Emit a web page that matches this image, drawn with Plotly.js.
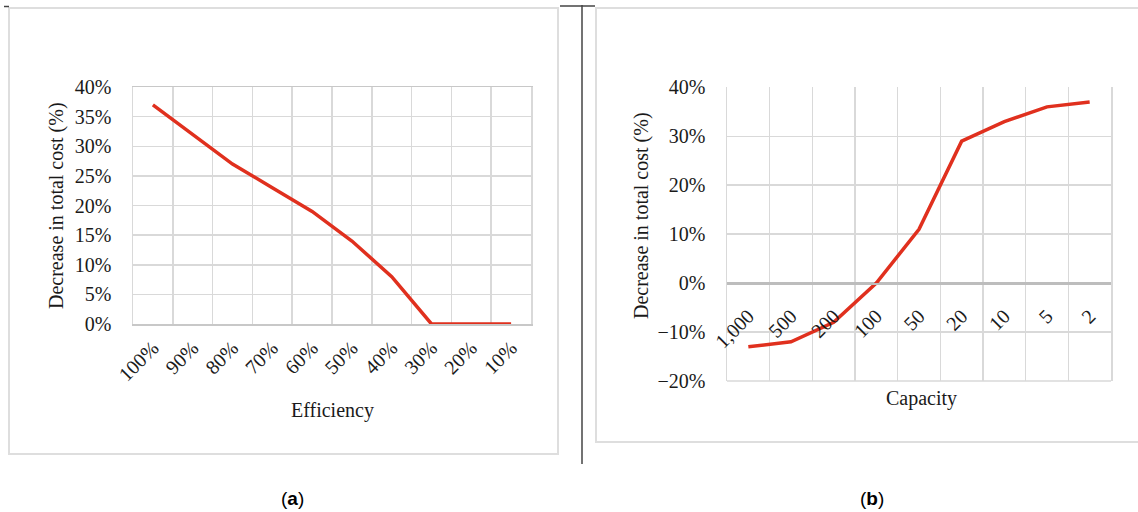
<!DOCTYPE html>
<html>
<head>
<meta charset="utf-8">
<script src="https://cdn.plot.ly/plotly-3.0.1.min.js"></script>
<style>html,body{margin:0;padding:0;background:#fff;}#chart{width:1138px;height:512px;}</style>
</head>
<body>
<div id="chart"></div>
<script>
// ---- data ----
const efficiencyLabels = ["100%","90%","80%","70%","60%","50%","40%","30%","20%","10%"];
const efficiencyDecrease = [37, 32, 27, 23, 19, 14, 8, 0, 0, 0];
const capacityLabels = ["1,000","500","200","100","50","20","10","5","2"];
const capacityDecrease = [-13, -12, -8, 0, 11, 29, 33, 36, 37];
const yTitle = "Decrease in total cost (%)";
const xTitleA = "Efficiency";
const xTitleB = "Capacity";
const panelLabels = ["a", "b"];

// ---- layout helpers (pixel -> paper) ----
const W = 1138, H = 512;
const px = x => x / W;
const py = y => 1 - y / H;

const serif = "Liberation Serif, Times New Roman, serif";
const tickFont = {family: serif, size: 20, color: "#1a1a1a"};
const titleFont = {family: serif, size: 20, color: "#1a1a1a"};
const gridColor = "#d9d9d9";
const lineRed = "#e0301e";

const traces = [
  {x: efficiencyLabels, y: efficiencyDecrease, xaxis: "x", yaxis: "y", type: "scatter", mode: "lines",
   line: {color: lineRed, width: 3.5}, hoverinfo: "skip"},
  {x: capacityLabels, y: capacityDecrease, xaxis: "x2", yaxis: "y2", type: "scatter", mode: "lines",
   line: {color: lineRed, width: 3.5}, hoverinfo: "skip"}
];

const ann = (x, y, text, font, angle) => ({
  xref: "paper", yref: "paper", x: px(x), y: py(y), text: text, textangle: angle || 0,
  xanchor: "center", yanchor: "middle", showarrow: false, font: font
});

const layout = {
  width: W, height: H,
  margin: {l: 0, r: 0, t: 0, b: 0},
  paper_bgcolor: "#fff", plot_bgcolor: "#fff",
  showlegend: false,
  xaxis: {
    domain: [px(133), px(531)], anchor: "y", type: "category",
    range: [-0.5, efficiencyLabels.length - 0.5],
    tickson: "boundaries", showgrid: true, gridcolor: gridColor, gridwidth: 1.5,
    showline: true, linecolor: "#c8c8c8", linewidth: 1.5, mirror: true,
    ticks: "", tickangle: -45, tickfont: tickFont, ticklabelstandoff: 3,
    fixedrange: true
  },
  yaxis: {
    domain: [py(324), py(87)], anchor: "x", range: [0, 40], dtick: 5,
    ticksuffix: "%", showgrid: true, gridcolor: gridColor, gridwidth: 1.5,
    zeroline: false, showline: true, linecolor: gridColor, linewidth: 1.5, mirror: true,
    ticks: "", tickfont: tickFont, ticklabelstandoff: 16, fixedrange: true
  },
  xaxis2: {
    domain: [px(727), px(1111)], anchor: "free", position: py(381) + (py(87.3) - py(381)) / 3,
    type: "category", range: [-0.5, capacityLabels.length - 0.5],
    tickson: "boundaries", showgrid: true, gridcolor: gridColor, gridwidth: 1.5,
    showline: true, linecolor: "#bdbdbd", linewidth: 1.5,
    ticks: "", tickangle: -45, tickfont: tickFont, ticklabelstandoff: 12, fixedrange: true
  },
  yaxis2: {
    domain: [py(381), py(87.3)], anchor: "x2", range: [-20, 40], dtick: 10,
    ticksuffix: "%", showgrid: true, gridcolor: gridColor, gridwidth: 1.5,
    zeroline: true, zerolinecolor: "#bdbdbd", zerolinewidth: 1.5,
    showline: true, linecolor: gridColor, linewidth: 1.5, mirror: true,
    ticks: "", tickfont: tickFont, ticklabelstandoff: 16, fixedrange: true
  },
  shapes: [
    {type: "rect", xref: "paper", yref: "paper", x0: px(9), x1: px(558), y0: py(454), y1: py(8),
     line: {color: "#dedede", width: 2}},
    {type: "rect", xref: "paper", yref: "paper", x0: px(596), x1: px(1150), y0: py(442), y1: py(8),
     line: {color: "#dedede", width: 2}},
    {type: "line", xref: "paper", yref: "paper", x0: px(727), x1: px(1111), y0: py(381), y1: py(381),
     line: {color: gridColor, width: 1.5}},
    {type: "line", xref: "paper", yref: "paper", x0: px(582), x1: px(582), y0: py(464), y1: py(5),
     line: {color: "#444", width: 1.5}},
    {type: "line", xref: "paper", yref: "paper", x0: px(560), x1: px(595), y0: py(6), y1: py(6),
     line: {color: "#444", width: 1.5}},
    {type: "line", xref: "paper", yref: "paper", x0: px(4), x1: px(9), y0: py(6.5), y1: py(6.5),
     line: {color: "#444", width: 1.5}}
  ],
  annotations: [
    ann(56, 206, yTitle, titleFont, -90),
    ann(641, 216, yTitle, titleFont, -90),
    ann(332, 410, xTitleA, titleFont),
    ann(921, 398, xTitleB, titleFont),
    ann(292, 498, "(<b>" + panelLabels[0] + "</b>)", {family: "Liberation Sans, Arial, sans-serif", size: 19, color: "#000"}),
    ann(872, 498, "(<b>" + panelLabels[1] + "</b>)", {family: "Liberation Sans, Arial, sans-serif", size: 19, color: "#000"})
  ]
};

Plotly.newPlot("chart", traces, layout, {staticPlot: true, displayModeBar: false});
</script>
</body>
</html>
